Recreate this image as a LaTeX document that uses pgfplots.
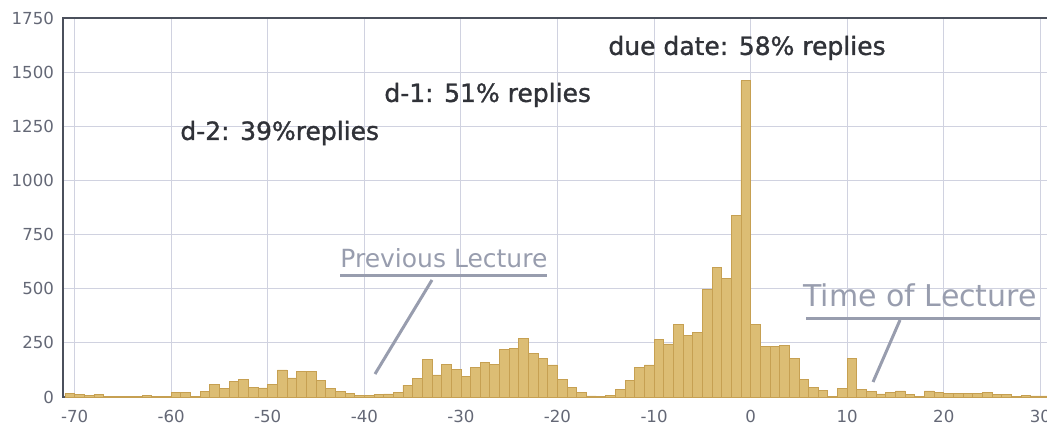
\documentclass[border=0pt]{standalone}
\usepackage{pgfplots}
\pgfplotsset{compat=1.18}
\usepackage{fontspec}
\setmainfont{DejaVu Sans}
\newfontfamily\annfont[FakeBold=1.2]{DejaVu Sans}
\definecolor{barfill}{RGB}{220,189,116}
\definecolor{baredge}{RGB}{198,160,82}
\definecolor{gridc}{RGB}{208,210,224}
\definecolor{axc}{RGB}{75,80,92}
\definecolor{tickc}{RGB}{100,104,118}
\definecolor{annc}{RGB}{152,157,174}
\definecolor{txtc}{RGB}{48,50,56}
\begin{document}
\begin{tikzpicture}[x=0.5pt,y=0.5pt]
\path[use as bounding box, clip] (0,0) rectangle (1047,429);
\begin{axis}[
  at={(31.5pt,16pt)}, anchor=south west,
  scale only axis, width=493.5pt, height=189.5pt,
  xmin=-71.2, xmax=31, ymin=0, ymax=1750,
  xtick={-70,-60,-50,-40,-30,-20,-10,0,10,20,30},
  xticklabels={-70,-60,-50,-40,-30,-20,-10,0,10,20,30},
  ytick={0,250,500,750,1000,1250,1500,1750},
  yticklabels={0,250,500,750,1000,1250,1500,1750},
  major tick length=0pt,
  grid=major, grid style={gridc, line width=0.5pt},
  axis line style={axc, line width=1.3pt},
  tick label style={font=\fontsize{8.3}{10}\selectfont, text=tickc},
  xticklabel style={yshift=-3pt},
  yticklabel style={xshift=-1pt},
]
\addplot[ybar interval, fill=barfill, draw=baredge, line width=0.4pt] coordinates {
(-71,15) (-70,12) (-69,8) (-68,12) (-67,3) (-66,2) (-65,2) (-64,3) (-63,6) (-62,2)
(-61,1) (-60,20) (-59,20) (-58,3) (-57,27) (-56,58) (-55,38) (-54,70) (-53,82) (-52,45)
(-51,42) (-50,58) (-49,125) (-48,88) (-47,120) (-46,120) (-45,78) (-44,38) (-43,25) (-42,15)
(-41,8) (-40,8) (-39,12) (-38,14) (-37,19) (-36,55) (-35,86) (-34,172) (-33,102) (-32,152)
(-31,128) (-30,94) (-29,137) (-28,159) (-27,150) (-26,219) (-25,225) (-24,270) (-23,203) (-22,180)
(-21,148) (-20,83) (-19,45) (-18,20) (-17,5) (-16,3) (-15,8) (-14,35) (-13,75) (-12,135)
(-11,148) (-10,265) (-9,245) (-8,335) (-7,285) (-6,300) (-5,495) (-4,600) (-3,548) (-2,840)
(-1,1460) (0,337) (1,235) (2,235) (3,240) (4,178) (5,80) (6,45) (7,30) (8,3)
(9,40) (10,180) (11,36) (12,24) (13,14) (14,22) (15,28) (16,12) (17,3) (18,28)
(19,22) (20,18) (21,17) (22,17) (23,16) (24,23) (25,12) (26,10) (27,3) (28,8)
(29,5) (30,5) (31,0)};
\end{axis}
% annotations
\node[anchor=west, inner sep=0pt, text=txtc, font=\annfont\fontsize{12.5}{14}\selectfont] at (608,381) {due date: 58\% replies};
\node[anchor=west, inner sep=0pt, text=txtc, font=\annfont\fontsize{12.5}{14}\selectfont] at (384,334) {d-1: 51\% replies};
\node[anchor=west, inner sep=0pt, text=txtc, font=\annfont\fontsize{12.5}{14}\selectfont] at (180,296) {d-2: 39\%replies};
\node[anchor=west, inner sep=0pt, text=annc, font=\fontsize{12.5}{14}\selectfont] at (340,171) {Previous Lecture};
\draw[annc, line width=1.5pt] (340,154) -- (547,154);
\draw[annc, line width=1.5pt] (432,149) -- (375,55);
\node[anchor=west, inner sep=0pt, text=annc, font=\fontsize{15}{17}\selectfont] at (803,134) {Time of Lecture};
\draw[annc, line width=1.5pt] (806,111) -- (1040,111);
\draw[annc, line width=1.5pt] (900,109) -- (873,47);
\end{tikzpicture}
\end{document}
